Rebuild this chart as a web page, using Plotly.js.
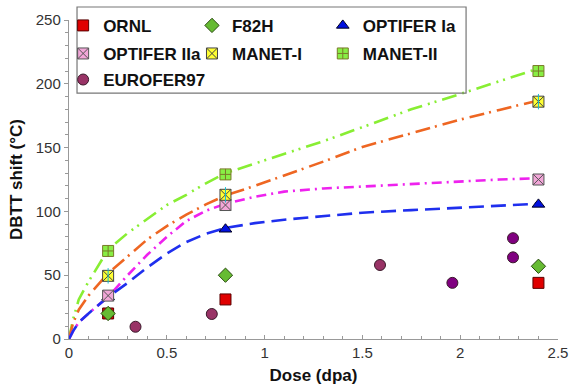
<!DOCTYPE html>
<html><head><meta charset="utf-8">
<script src="https://cdn.plot.ly/plotly-3.0.1.min.js"></script>
<style>html,body{margin:0;padding:0;background:#fff}#chart{width:571px;height:392px}</style>
</head><body><div id="chart"></div>
<script>
// Fitted trend curves
const fitDose   = [0, 0.02, 0.05, 0.1, 0.2, 0.3, 0.4, 0.5, 0.6, 0.7, 0.8, 0.95, 1.1, 1.3, 1.5, 1.75, 2.0, 2.2, 2.4];
const fitManet2 = [0, 15, 31, 45, 70, 83, 94, 105, 113, 122, 130, 137.5, 145, 155, 166, 180, 192, 202, 212];
const fitManet1 = [0, 12, 23, 34, 51.5, 65, 78, 88.5, 97.5, 105.5, 112.5, 120, 128, 139, 150.5, 161, 172, 179.5, 187];
const fitOpt2a  = [0, 6, 13, 20, 33, 50, 66, 80, 92.5, 100.5, 106, 111.5, 115.5, 118, 119.5, 121.5, 123.5, 125, 126];
const fitOpt1a  = [0, 6, 13, 20, 33, 44, 56, 67, 76, 82.5, 87, 90.8, 93.5, 96.5, 99, 101, 102.7, 104.3, 106];

// Measured points
const ornlX = [0.2, 0.8, 2.4];     const ornlY = [20, 31, 44];
const f82hX = [0.2, 0.8, 2.4];     const f82hY = [20, 50, 57];
const opt1aX = [0.2, 0.8, 2.4];    const opt1aY = [33, 86, 105.5];
const opt2aX = [0.2, 0.8, 2.4];    const opt2aY = [34, 105, 125];
const manet1X = [0.2, 0.8, 2.4];   const manet1Y = [49.5, 113, 186];
const manet2X = [0.2, 0.8, 2.4];   const manet2Y = [69, 129, 210];
const euroX = [0.34, 0.73, 1.59, 1.96, 2.27, 2.27];
const euroY = [9.6, 19.6, 58, 44, 79, 64];
const euroColors = ['#993366', '#993366', '#993366', '#800080', '#800080', '#800080'];

const FONT = 'Liberation Sans, Arial, sans-serif';

function fitLine(y, color, dash) {
  return {x: fitDose, y: y, mode: 'lines', showlegend: false, hoverinfo: 'skip',
          line: {color: color, width: 2.6, dash: dash}};
}
function pts(name, x, y, symbol, fill, lineColor, legend) {
  return {x: x, y: y, name: name, mode: 'markers', legend: legend,
          marker: {symbol: symbol, size: 11, color: fill, line: {color: lineColor, width: 1}}};
}

const traces = [
  fitLine(fitManet2, '#88ee33', '15px,6px,2px,5px,2px,6px'),
  fitLine(fitManet1, '#ee6622', '15px,5px,2px,6px'),
  fitLine(fitOpt2a, '#ee22ee', '10px,5px,2px,5px'),
  fitLine(fitOpt1a, '#1f2fee', '15px,7px'),
  pts('ORNL', ornlX, ornlY, 'square', '#e00000', '#5a0000', 'legend'),
  pts('F82H', f82hX, f82hY, 'diamond', '#66bb33', '#2a4a10', 'legend2'),
  pts('OPTIFER Ia', opt1aX, opt1aY, 'triangle-up', '#0010e0', '#000022', 'legend3'),
  pts('OPTIFER IIa', opt2aX, opt2aY, 'square-x', '#f2a6d8', '#555555', 'legend4'),
  pts('MANET-I', manet1X, manet1Y, 'square-x', '#ffff33', '#444444', 'legend5'),
  {x: manet1X, y: manet1Y, mode: 'markers', showlegend: false, hoverinfo: 'skip',
   marker: {symbol: 'line-ns-open', size: 11, line: {color: '#444444', width: 1}}},
  pts('MANET-II', manet2X, manet2Y, 'square-cross', '#88ee44', '#7a7a2a', 'legend6'),
  pts('EUROFER97', euroX, euroY, 'circle', euroColors, '#3a1a2a', 'legend7')
];

function leg(x, y) {
  return {
    orientation: 'h', xanchor: 'left', yanchor: 'middle', x: x, y: y,
    bgcolor: 'rgba(0,0,0,0)', borderwidth: 0,
    font: {family: FONT, size: 17, color: '#111', weight: 'bold'}
  };
}
const colX = [-0.012, 0.2515, 0.519];
const rowY = [0.9816, 0.8937, 0.812];

const layout = {
  width: 571, height: 392,
  margin: {l: 69, r: 13, t: 20, b: 53, autoexpand: false},
  paper_bgcolor: '#fff', plot_bgcolor: '#fff',
  font: {family: FONT, color: '#222'},
  showlegend: true,
  legend:  leg(colX[0], rowY[0]),
  legend2: leg(colX[1], rowY[0]),
  legend3: leg(colX[2], rowY[0]),
  legend4: leg(colX[0], rowY[1]),
  legend5: leg(colX[1], rowY[1]),
  legend6: leg(colX[2], rowY[1]),
  legend7: leg(colX[0], rowY[2]),
  xaxis: {
    range: [0, 2.5], dtick: 0.5, tick0: 0,
    showline: true, linecolor: '#999', linewidth: 1.2,
    showgrid: false, zeroline: false,
    ticks: 'inside', ticklen: 4, tickcolor: '#999',
    minor: {dtick: 0.1, ticks: 'inside', ticklen: 3, tickcolor: '#999', showgrid: false},
    tickfont: {family: FONT, size: 15, color: '#333'},
    title: {text: 'Dose (dpa)', font: {family: FONT, size: 17, color: '#111', weight: 'bold'}, standoff: 8}
  },
  yaxis: {
    range: [0, 250], dtick: 50, tick0: 0,
    showline: true, linecolor: '#999', linewidth: 1.2,
    showgrid: false, zeroline: false,
    ticks: 'outside', ticklen: 4, tickcolor: '#999',
    minor: {dtick: 10, ticks: 'outside', ticklen: 3, tickcolor: '#999', showgrid: false},
    tickfont: {family: FONT, size: 15, color: '#333'},
    title: {text: 'DBTT shift (°C)', font: {family: FONT, size: 17, color: '#111', weight: 'bold'}, standoff: 8}
  },
  shapes: [{
    type: 'rect', xref: 'paper', yref: 'paper',
    x0: 0.0164, x1: 0.812, y0: 0.771, y1: 1.0408,
    line: {color: '#777', width: 1.2}, fillcolor: 'rgba(0,0,0,0)', layer: 'above'
  }]
};

Plotly.newPlot('chart', traces, layout, {displayModeBar: false, staticPlot: true});
</script>
</body></html>
